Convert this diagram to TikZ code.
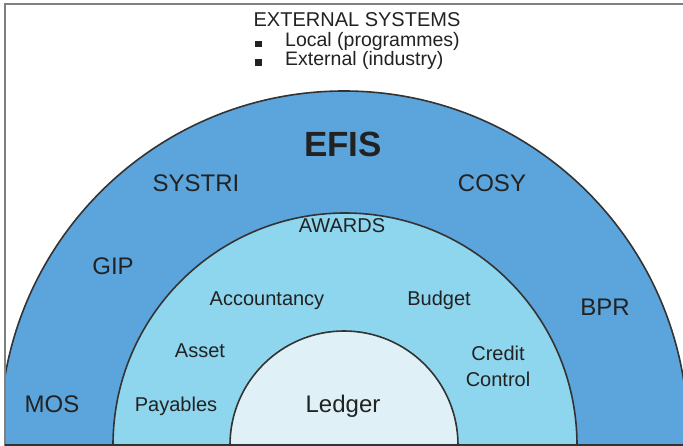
\documentclass[tikz,border=0pt]{standalone}
\usepackage{fontspec}
\setmainfont{Liberation Sans}
\definecolor{outerblue}{HTML}{5CA5DC}
\definecolor{midblue}{HTML}{8ED5EE}
\definecolor{innerblue}{HTML}{DFF1F6}
\definecolor{ringline}{HTML}{333333}
\definecolor{framegray}{HTML}{808080}
\definecolor{txt}{HTML}{222222}
\begin{document}
\begin{tikzpicture}[x=1pt,y=-1pt,
  lab/.style={anchor=base, inner sep=0pt, text=txt, font=\fontsize{20}{24}\selectfont},
  hdr/.style={anchor=base west, inner sep=0pt, text=txt, font=\fontsize{19.5}{23}\selectfont},
  biglab/.style={anchor=base, inner sep=0pt, text=txt, font=\fontsize{24}{28}\selectfont},
  ring/.style={draw=ringline, line width=1.6pt},
  bullet/.style={fill=txt, draw=none, minimum width=7pt, minimum height=6.5pt, inner sep=0pt, anchor=south west}]
\useasboundingbox (0,0) rectangle (683,446);
\fill[white] (0,0) rectangle (683,446);
\begin{scope}
  \clip (5,4) rectangle (683,445);
  \filldraw[ring, fill=outerblue] (344,435) circle[radius=344pt];
  \filldraw[ring, fill=midblue] (345,445) circle[radius=232pt];
  \filldraw[ring, fill=innerblue] (344,445) circle[radius=114pt];
\end{scope}
\draw[framegray, line width=2pt] (5,446) -- (5,4) -- (684,4);
\draw[ringline, line width=1.6pt] (5,445) -- (684,445);

\node[lab] (ext) at (357,27) {EXTERNAL SYSTEMS};
\node[bullet] (b1) at (255,47.5) {};
\node[bullet] (b2) at (255,66) {};
\node[hdr] (local) at (285,47) {Local (programmes)};
\node[hdr] (extind) at (285,66) {External (industry)};

\node[anchor=base, inner sep=0pt, text=txt, font=\fontsize{35}{40}\selectfont\bfseries] (efis) at (343,157) {EFIS};
\node[biglab] (systri) at (196,192) {SYSTRI};
\node[biglab] (cosy) at (492,192) {COSY};
\node[biglab] (gip) at (113,275) {GIP};
\node[biglab] (bpr) at (605,316) {BPR};
\node[biglab] (mos) at (52,412) {MOS};

\node[lab] (awards) at (342,233) {AWARDS};
\node[lab] (acc) at (267,306) {Accountancy};
\node[lab] (budget) at (439,306) {Budget};
\node[lab] (asset) at (200,358) {Asset};
\node[lab] (credit) at (498,361) {Credit};
\node[lab] (control) at (498,386) {Control};
\node[lab] (payables) at (176,411) {Payables};
\node[biglab] (ledger) at (343,413) {Ledger};
\end{tikzpicture}
\end{document}
